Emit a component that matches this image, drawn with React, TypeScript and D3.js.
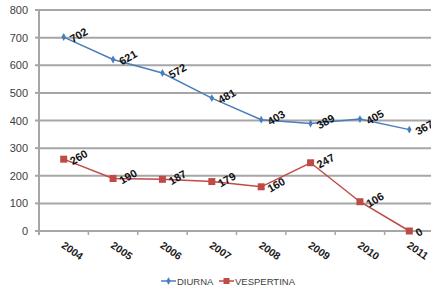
import React from 'react';
import * as d3 from 'd3';

const years = ['2004', '2005', '2006', '2007', '2008', '2009', '2010', '2011'];
const diurna = [702, 621, 572, 481, 403, 389, 405, 367];
const vespertina = [260, 190, 187, 179, 160, 247, 106, 0];
const yTicks = [0, 100, 200, 300, 400, 500, 600, 700, 800];

const BLUE = '#4a7ebb';
const RED = '#be4b48';
const GRID = '#a6a6a6';

export default function App() {
  const w = 431, h = 292;
  const left = 39, right = 434, top = 10, bottom = 231;

  const x = d3.scaleBand().domain(years).range([left, right]);
  const y = d3.scaleLinear().domain([0, 800]).range([bottom, top]);
  const cx = (d: string) => (x(d) as number) + x.bandwidth() / 2;

  const line = d3.line<number>()
    .x((_, i) => cx(years[i]))
    .y(d => y(d));

  const font = 'Liberation Sans, Arial, sans-serif';

  // data labels, rotated like the original
  const labels = (vals: number[]) =>
    vals.map((v, i) => (
      <text key={i}
        transform={`translate(${cx(years[i]) + 9},${y(v) + 6}) rotate(-30)`}
        fontSize={11} fontWeight="bold" fill="#111" fontFamily={font}>{v}</text>
    ));

  return (
    <svg width={w} height={h} style={{ position: 'absolute', left: 0, top: 0 }}>
      <rect width={w} height={h} fill="#fff" />
      {yTicks.map(t => (
        <g key={t}>
          {t > 0 && <line x1={left} x2={right} y1={y(t)} y2={y(t)} stroke={GRID} strokeWidth={2} />}
          <line x1={left - 4} x2={left} y1={y(t)} y2={y(t)} stroke={GRID} strokeWidth={2} />
          <text x={28} y={y(t) + 4} textAnchor="end" fontSize={11} fill="#404040" fontFamily={font}>{t}</text>
        </g>
      ))}
      <line x1={left} x2={right} y1={bottom} y2={bottom} stroke={GRID} strokeWidth={2} />
      <line x1={left} x2={left} y1={top} y2={bottom + 4} stroke={GRID} strokeWidth={2} />
      {years.map(yr => (
        <line key={yr} x1={(x(yr) as number) + x.bandwidth()} x2={(x(yr) as number) + x.bandwidth()}
          y1={bottom} y2={bottom + 4} stroke={GRID} strokeWidth={1.5} />
      ))}
      {years.map(yr => (
        <text key={yr} transform={`translate(${cx(yr) - 3},${bottom + 16}) rotate(35)`}
          fontSize={10.5} fontWeight="bold" fill="#1a1a1a" fontFamily={font}>{yr}</text>
      ))}

      <path d={line(diurna) as string} fill="none" stroke={BLUE} strokeWidth={1.5} />
      {diurna.map((v, i) => (
        <path key={i} d={d3.symbol(d3.symbolDiamond, 18)() as string}
          transform={`translate(${cx(years[i])},${y(v)})`} fill={BLUE} />
      ))}
      <path d={line(vespertina) as string} fill="none" stroke={RED} strokeWidth={1.5} />
      {vespertina.map((v, i) => (
        <rect key={i} x={cx(years[i]) - 3.5} y={y(v) - 3.5} width={7} height={7} fill={RED} />
      ))}
      {labels(diurna)}
      {labels(vespertina)}

      <g fontFamily={font} fontSize={9.5} fill="#404040">
        <line x1={161} x2={176} y1={281} y2={281} stroke={BLUE} strokeWidth={1.5} />
        <path d={d3.symbol(d3.symbolDiamond, 16)() as string} transform="translate(168.5,281)" fill={BLUE} />
        <text x={177} y={284.5}>DIURNA</text>
        <line x1={219} x2={234} y1={281} y2={281} stroke={RED} strokeWidth={1.5} />
        <rect x={223.5} y={278} width={6} height={6} fill={RED} />
        <text x={235} y={284.5}>VESPERTINA</text>
      </g>
    </svg>
  );
}
